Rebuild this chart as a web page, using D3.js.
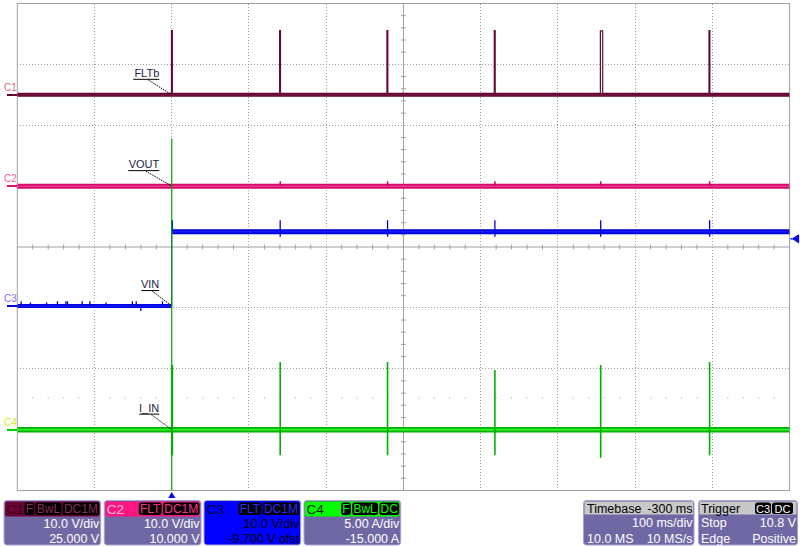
<!DOCTYPE html>
<html><head><meta charset="utf-8">
<script src="https://cdn.jsdelivr.net/npm/d3@7"></script>
<style>body{margin:0;background:#fff}svg{display:block}text{font-family:"Liberation Sans",Arial,sans-serif}</style>
</head><body>
<svg id="c" width="800" height="547"></svg>
<script>
// ---- data ----
const timeDomain = [-200, 800];           // ms, 100 ms/div, 10 div
const channelNames = ["C1", "C2", "C3", "C4"];
const channelScales = [10, 10, 10, 5];    // V/div, V/div, V/div, A/div
const channelOffsets = [25, 10, -9.7, -15];
const traceLabels = ["FLTb", "VOUT", "VIN", "I_IN"];
const pulseTimes = [0, 140, 279, 418, 555, 696];          // ms
const fltbHigh = [10.5, 10.5, 10.5, 10.5, 10.5, 10.5];     // V
const fltbWidth = [0.4, 0.4, 0.4, 0.4, 3, 0.4];            // ms
const fltbLow = 0;
const voutLevel = 0;
const voutPip = [0.3, 0.8, 0.8, 0.8, 0.8, 0.8];            // V
const vinBefore = 0, vinAfter = 12.2;                      // V
const vinSpikeHigh = [14.1, 14.1, 14.1, 14.1, 14.1, 14.1];
const vinSpikeLow = [12.2, 11.4, 11.4, 11.4, 11.4, 11.4];
const vinNoiseTimes = [-195, -183, -162, -148, -137, -135, -116, -106, -85, -51, -46, -12];
const vinNoiseUp = [0.8, 0.6, 0.6, 0.8, 0.8, 0.8, 0.8, 0.8, 0.6, 0.8, 0.8, 0.8];
const vinNoiseDownTime = [-40], vinNoiseDown = [-0.8];
const iinLevel = 0;
const iinPeak = [5.3, 5.55, 5.55, 4.9, 5.3, 5.55];         // A
const iinDip = [-2.1, -2.1, -2.1, -2.1, -2.3, -2.1];       // A
const iinInrushPeak = 23.9, iinInrushDip = -7;              // A at t=0
const chInfo1 = ["10.0 V/div", "10.0 V/div", "10.0 V/div", "5.00 A/div"];
const chInfo2 = ["25.000 V", "10.000 V", "-9.700 V ofst", "-15.000 A"];
const chTags = [["F", "BwL", "DC1M"], ["FLT", "DC1M"], ["FLT", "DC1M"], ["F", "BwL", "DC"]];
const timebase = {delay: "-300 ms", perDiv: "100 ms/div", samples: "10.0 MS", rate: "10 MS/s"};
const trigger = {src: "C3", coupling: "DC", mode: "Stop", level: "10.8 V", type: "Edge", slope: "Positive"};

// ---- layout ----
const svg = d3.select("#c");
const X0 = 17.3, X1 = 789.6, Y0 = 3.5, Y1 = 490.5;
const x = d3.scaleLinear().domain(timeDomain).range([X0, X1]);
const yDiv = d3.scaleLinear().domain([-4, 4]).range([Y1, Y0]);
const yCh = i => v => yDiv((v + channelOffsets[i]) / channelScales[i]);
const xDiv = d3.scaleLinear().domain([0, 10]).range([X0, X1]);

// grid
const grid = svg.append("g");
const gc = "#a0a0a0";
for (let k = 1; k < 10; k++) if (k !== 5)
  grid.append("line").attr("x1", xDiv(k)).attr("x2", xDiv(k)).attr("y1", Y0).attr("y2", Y1)
    .attr("stroke", gc).attr("stroke-dasharray", "1,2").attr("shape-rendering", "crispEdges");
for (let k = -3; k < 4; k++) if (k !== 0)
  grid.append("line").attr("y1", yDiv(k)).attr("y2", yDiv(k)).attr("x1", X0).attr("x2", X1)
    .attr("stroke", gc).attr("stroke-dasharray", "1,2").attr("shape-rendering", "crispEdges");
for (let k = 1; k < 50; k++) if (k % 5 !== 0)
  grid.append("rect").attr("x", xDiv(k / 5) - 0.5).attr("y", Math.round(yDiv(-2.48)) - 0.5).attr("width", 1).attr("height", 1).attr("fill", gc);
grid.append("line").attr("x1", X0).attr("x2", X1).attr("y1", yDiv(0)).attr("y2", yDiv(0)).attr("stroke", gc);
grid.append("line").attr("x1", xDiv(5)).attr("x2", xDiv(5)).attr("y1", Y0).attr("y2", Y1).attr("stroke", gc);
for (let k = 1; k < 50; k++) if (k % 5 !== 0)
  grid.append("line").attr("x1", xDiv(k / 5)).attr("x2", xDiv(k / 5)).attr("y1", yDiv(0) - 2.5).attr("y2", yDiv(0) + 2.5).attr("stroke", gc);
for (let k = 1; k < 40; k++) if (k % 5 !== 0)
  grid.append("line").attr("y1", yDiv(-4 + k / 5)).attr("y2", yDiv(-4 + k / 5)).attr("x1", xDiv(5) - 2.5).attr("x2", xDiv(5) + 2.5).attr("stroke", gc);
grid.append("rect").attr("x", X0).attr("y", Y0).attr("width", X1 - X0).attr("height", Y1 - Y0)
  .attr("fill", "none").attr("stroke", gc);

svg.append("defs").append("clipPath").attr("id", "clip").append("rect")
  .attr("x", X0).attr("y", Y0).attr("width", X1 - X0).attr("height", Y1 - Y0);
const tr = svg.append("g").attr("clip-path", "url(#clip)");
const line = (i) => d3.line().x(d => x(d[0])).y(d => yCh(i)(d[1]));

function thick(i, pts, outer, inner, w) {
  tr.append("path").attr("d", line(i)(pts)).attr("fill", "none").attr("stroke", outer).attr("stroke-width", w);
  tr.append("path").attr("d", line(i)(pts)).attr("fill", "none").attr("stroke", inner).attr("stroke-width", w * 0.3);
}
function spike(i, t, a, b, col, w) {
  tr.append("path").attr("d", line(i)([[t, a], [t, b]])).attr("fill", "none").attr("stroke", col).attr("stroke-width", w);
}

// C1 FLTb
thick(0, [[timeDomain[0], fltbLow], [timeDomain[1], fltbLow]], "#62002e", "#7e1248", 4);
pulseTimes.forEach((t, j) => {
  tr.append("path").attr("d", line(0)([[t, fltbLow], [t, fltbHigh[j]], [t + fltbWidth[j], fltbHigh[j]], [t + fltbWidth[j], fltbLow]]))
    .attr("fill", "none").attr("stroke", "#650a38").attr("stroke-width", fltbWidth[j] > 1 ? 1.2 : 1.8);
});
// C2 VOUT
thick(1, [[timeDomain[0], voutLevel], [timeDomain[1], voutLevel]], "#d6086c", "#ea3a88", 5);
pulseTimes.forEach((t, j) => spike(1, t + 0.5, voutLevel, voutPip[j], "#d6086c", 1.6));
// C3 VIN
thick(2, [[timeDomain[0], vinBefore], [0, vinBefore]], "#0000d8", "#1818ff", 4);
thick(2, [[0, vinAfter], [timeDomain[1], vinAfter]], "#0000d8", "#1818ff", 5);
vinNoiseTimes.forEach((t, j) => spike(2, t, vinBefore, vinNoiseUp[j], "#0000d8", 1.3));
vinNoiseDownTime.forEach((t, j) => spike(2, t, vinBefore, vinNoiseDown[j], "#0000d8", 1.3));
spike(2, 0, vinBefore, vinAfter, "#0000d8", 1);
pulseTimes.forEach((t, j) => spike(2, t + 0.4, vinSpikeLow[j], vinSpikeHigh[j], "#0000d8", j === 0 ? 2 : 1.3));
// C4 I_IN
thick(3, [[timeDomain[0], iinLevel], [timeDomain[1], iinLevel]], "#00b000", "#30ff30", 5.5);
spike(3, 0, iinInrushDip, iinInrushPeak, "#00a800", 1.2);
pulseTimes.forEach((t, j) => spike(3, t + 0.4, iinDip[j], iinPeak[j], "#00b000", j === 0 ? 2.2 : 1.6));

// trace labels
const baseVals = [fltbLow, voutLevel, vinBefore, iinLevel];
const labW = [26, 31, 18, 20];
traceLabels.forEach((s, i) => {
  const px = x(0), py = yCh(i)(baseVals[i]);
  const tx1 = px - 12.5, tx0 = tx1 - labW[i], ty = py - 16;
  svg.append("text").attr("x", tx1).attr("y", ty - 2).attr("text-anchor", "end")
    .attr("font-size", 11).attr("fill", "#1c1c44").text(s);
  svg.append("line").attr("x1", tx0).attr("x2", tx1).attr("y1", ty + 0.5).attr("y2", ty + 0.5).attr("stroke", "#000");
  svg.append("line").attr("x1", (tx0 + tx1) / 2 + 2).attr("y1", ty + 1).attr("x2", px).attr("y2", py)
    .attr("stroke", "#000").attr("stroke-dasharray", "1.5,1");
});

// channel markers on left
const markCol = ["#62002e", "#e0106e", "#0000e0", "#00d000"];
const markTxt = ["#d86a78", "#ff5c94", "#8a6cff", "#c8f020"];
channelNames.forEach((n, i) => {
  const py = Math.round(yCh(i)(0));
  svg.append("text").attr("x", 4).attr("y", py - 4).attr("font-size", 10).attr("fill", markTxt[i]).text(n);
  svg.append("rect").attr("x", 7).attr("y", py - 1).attr("width", 10).attr("height", 2).attr("fill", markCol[i]);
});
const ym = yCh(2)(vinAfter) + 7;
svg.append("path").attr("d", `M${X1 + 1},${ym} L${X1 + 3},${ym} L${X1 + 9},${ym - 4} L${X1 + 9},${ym + 4} L${X1 + 3},${ym} Z`)
  .attr("fill", "#0000ff").attr("stroke", "#0000ff").attr("stroke-width", 1);
svg.append("path").attr("d", `M${x(0)},${Y1 + 1.5} l-3.5,6 l7,0 Z`).attr("fill", "#0000ff");

// ---- bottom panels ----
const P = svg.append("g");
const pY = 500.5, pH = 44.5;
const boxX = [4, 104.3, 204, 304], boxW = 96.7;
const hdrBg = ["#6a0434", "#ff1580", "#0000ff", "#00ff00"];
const hdrTxt = ["#3a0018", "#ffc0dc", "#000030", "#002000"];
const tagTxt = ["#8a2a58", "#ff3090", "#2a2aff", "#00ff00"];
const bodyTxt = ["#fff", "#fff", "#000", "#fff"];
channelNames.forEach((n, i) => {
  const bx = boxX[i];
  P.append("rect").attr("x", bx).attr("y", pY).attr("width", boxW).attr("height", pH).attr("rx", 3)
    .attr("fill", i === 2 ? "#0000ff" : "#7068a4").attr("stroke", "#aaa2d2");
  P.append("rect").attr("x", bx + 1).attr("y", pY + 1).attr("width", boxW - 2).attr("height", 15).attr("rx", 2).attr("fill", hdrBg[i]);
  P.append("text").attr("x", bx + 2.5).attr("y", pY + 13).attr("font-size", 13.5).attr("fill", hdrTxt[i]).text(n);
  let right = bx + boxW - 1.5;
  const tags = chTags[i].slice().reverse();
  tags.forEach(tg => {
    const t = P.append("text").attr("y", pY + 12.5).attr("text-anchor", "middle").attr("font-size", 12)
      .attr("fill", tagTxt[i]).text(tg);
    const w = t.node().getComputedTextLength() + 2.5;
    P.insert("rect", () => t.node()).attr("x", right - w).attr("y", pY + 2).attr("width", w).attr("height", 12.5).attr("rx", 2.5).attr("fill", "#000");
    t.attr("x", right - w / 2);
    right -= w + 1.3;
  });
  P.append("text").attr("x", bx + boxW - 1.5).attr("y", 527.5).attr("text-anchor", "end").attr("font-size", 12.5).attr("fill", bodyTxt[i]).text(chInfo1[i]);
  P.append("text").attr("x", bx + boxW - 1.5).attr("y", 542.5).attr("text-anchor", "end").attr("font-size", 12.5).attr("fill", bodyTxt[i]).text(chInfo2[i]);
});
{
  const bx = 583.5, bw = 110.5;
  P.append("rect").attr("x", bx).attr("y", pY).attr("width", bw).attr("height", pH).attr("rx", 3).attr("fill", "#7068a4").attr("stroke", "#aaa2d2");
  P.append("rect").attr("x", bx + 1).attr("y", pY + 1).attr("width", bw - 2).attr("height", 13).attr("fill", "#c8c8c8");
  P.append("text").attr("x", bx + 3.5).attr("y", pY + 12).attr("font-size", 12.5).attr("fill", "#000").text("Timebase");
  P.append("text").attr("x", bx + bw - 1.5).attr("y", pY + 12).attr("text-anchor", "end").attr("font-size", 12.5).attr("fill", "#000").text(timebase.delay);
  P.append("text").attr("x", bx + bw - 1.5).attr("y", 527).attr("text-anchor", "end").attr("font-size", 12.5).attr("fill", "#fff").text(timebase.perDiv);
  P.append("text").attr("x", bx + 3.5).attr("y", 542.5).attr("font-size", 12.5).attr("fill", "#fff").text(timebase.samples);
  P.append("text").attr("x", bx + bw - 1.5).attr("y", 542.5).attr("text-anchor", "end").attr("font-size", 12.5).attr("fill", "#fff").text(timebase.rate);
}
{
  const bx = 698.5, bw = 99;
  P.append("rect").attr("x", bx).attr("y", pY).attr("width", bw).attr("height", pH).attr("rx", 3).attr("fill", "#7068a4").attr("stroke", "#aaa2d2");
  P.append("rect").attr("x", bx + 1).attr("y", pY + 1).attr("width", bw - 2).attr("height", 13).attr("fill", "#c8c8c8");
  P.append("text").attr("x", bx + 2.5).attr("y", pY + 12).attr("font-size", 12.5).attr("fill", "#000").text("Trigger");
  [[trigger.src, 755, 16], [trigger.coupling, 772, 21]].forEach(([s, tx, w]) => {
    P.append("rect").attr("x", tx).attr("y", pY + 2).attr("width", w).attr("height", 11.5).attr("rx", 2.5).attr("fill", "#000");
    P.append("text").attr("x", tx + w / 2).attr("y", pY + 12).attr("text-anchor", "middle").attr("font-size", 11).attr("fill", "#fff").text(s);
  });
  P.append("text").attr("x", bx + 2.5).attr("y", 527).attr("font-size", 12.5).attr("fill", "#fff").text(trigger.mode);
  P.append("text").attr("x", bx + bw - 1.5).attr("y", 527).attr("text-anchor", "end").attr("font-size", 12.5).attr("fill", "#fff").text(trigger.level);
  P.append("text").attr("x", bx + 2.5).attr("y", 542.5).attr("font-size", 12.5).attr("fill", "#fff").text(trigger.type);
  P.append("text").attr("x", bx + bw - 1.5).attr("y", 542.5).attr("text-anchor", "end").attr("font-size", 12.5).attr("fill", "#fff").text(trigger.slope);
}
</script>
</body></html>
